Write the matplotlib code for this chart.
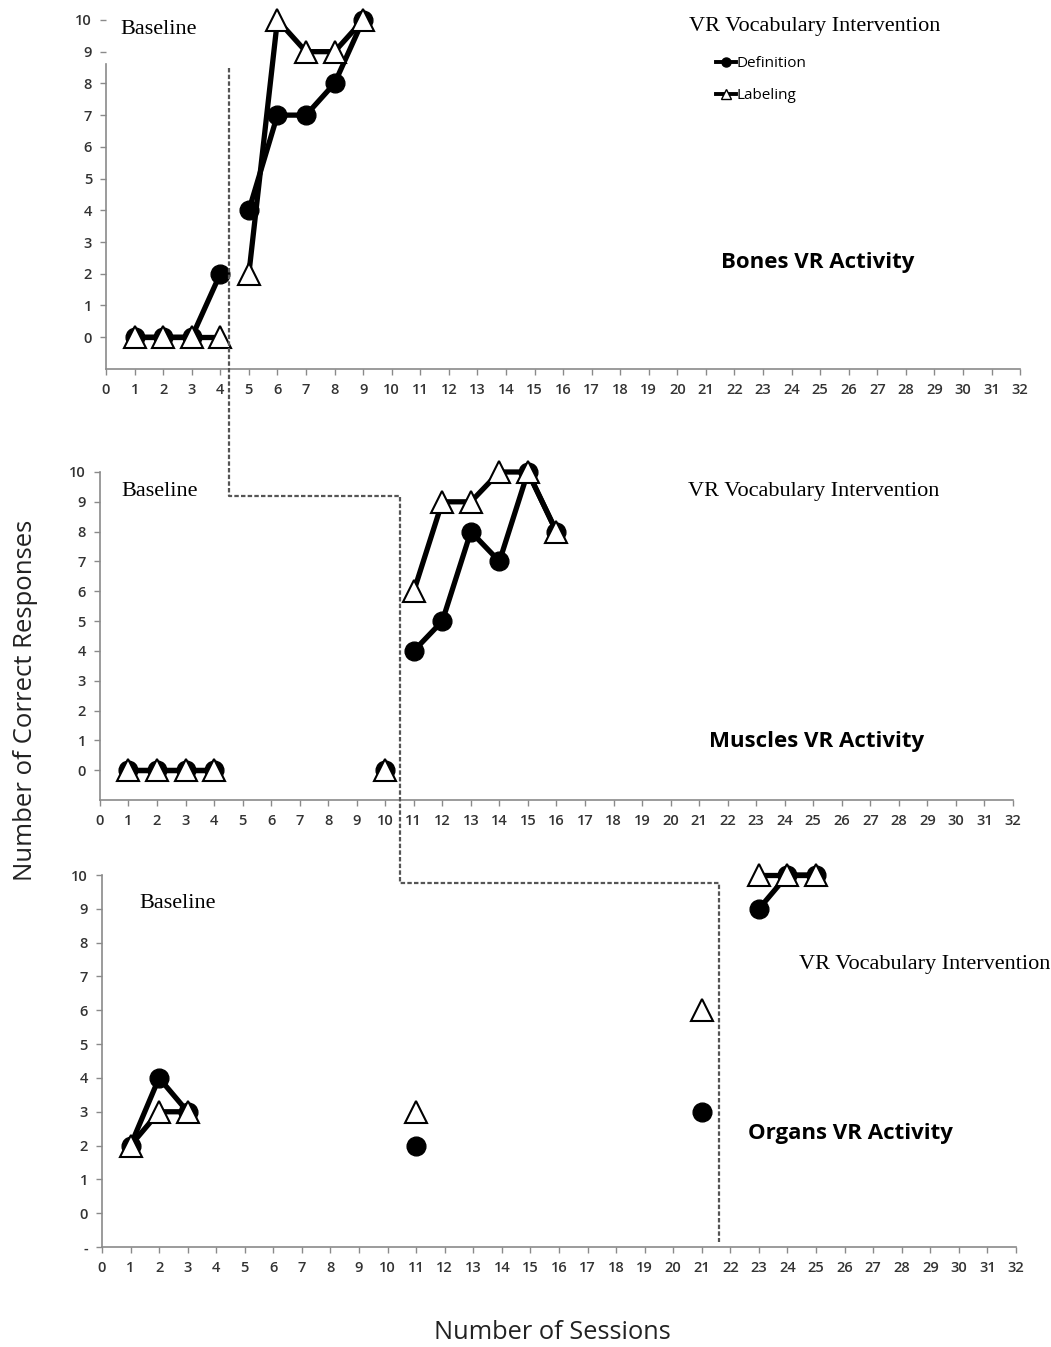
import numpy as np
import matplotlib
matplotlib.use("Agg")
from matplotlib import pyplot as plt
from matplotlib.lines import Line2D

# sessions and scores for each activity
bones_sess = [1, 2, 3, 4, 5, 6, 7, 8, 9]
bones_def = [0, 0, 0, 2, 4, 7, 7, 8, 10]
bones_lab = [0, 0, 0, 0, 2, 10, 9, 9, 10]
bones_groups = [(0, 4), (4, 9)]

muscles_sess = [1, 2, 3, 4, 10, 11, 12, 13, 14, 15, 16]
muscles_def = [0, 0, 0, 0, 0, 4, 5, 8, 7, 10, 8]
muscles_lab = [0, 0, 0, 0, 0, 6, 9, 9, 10, 10, 8]
muscles_groups = [(0, 4), (4, 5), (5, 11)]

organs_sess = [1, 2, 3, 11, 21, 23, 24, 25]
organs_def = [2, 4, 3, 2, 3, 9, 10, 10]
organs_lab = [2, 3, 3, 3, 6, 10, 10, 10]
organs_groups = [(0, 3), (3, 4), (4, 5), (5, 8)]

activity_names = ["Bones VR Activity", "Muscles VR Activity", "Organs VR Activity"]

# phase change line
phase_x = [4.3, 10.5, 21.6]
phase_y = [8.5, 9.2, 9.75, -0.85]

fig = plt.figure(figsize=(10.51, 13.47), dpi=100)

pos = [[0.1009, 0.7261, 0.8697, 0.2591],
       [0.0951, 0.4061, 0.8687, 0.2435],
       [0.0970, 0.0742, 0.8697, 0.2762]]


def style_labels(ax):
    for lab in ax.get_xticklabels() + ax.get_yticklabels():
        lab.set_fontfamily("Open Sans")
        lab.set_fontsize(10.5)
        lab.set_fontweight("semibold")
        lab.set_color("#333333")


axes = []
for p in pos:
    ax = fig.add_axes(p)
    ax.set_xlim(0, 32)
    ax.set_ylim(-1, 10)
    for s in ["top", "right"]:
        ax.spines[s].set_visible(False)
    for s in ["left", "bottom"]:
        ax.spines[s].set_color("#8a8a8a")
        ax.spines[s].set_linewidth(1.2)
    ax.set_xticks(range(0, 33))
    ax.set_yticks(range(0, 11))
    ax.tick_params(colors="#8a8a8a", length=4, width=1, pad=6)
    axes.append(ax)

ax1, ax2, ax3 = axes
ax1.spines["left"].set_bounds(-1, 8.6)
ax3.set_yticks(range(-1, 11))
ax3.set_yticklabels(["-"] + [str(i) for i in range(11)])
for ax in axes:
    style_labels(ax)

def_style = dict(color="black", lw=3.8, marker="o", markersize=13.5,
                 markerfacecolor="black", markeredgecolor="black", clip_on=False, zorder=3)
lab_style = dict(color="black", lw=3.8, marker="^", markersize=16.5,
                 markerfacecolor="white", markeredgecolor="black", markeredgewidth=1.5,
                 clip_on=False, zorder=4)


def draw(ax, sess, d, l, groups):
    for a, b in groups:
        ax.plot(sess[a:b], d[a:b], **def_style)
    for a, b in groups:
        ax.plot(sess[a:b], l[a:b], **lab_style)


draw(ax1, bones_sess, bones_def, bones_lab, bones_groups)
draw(ax2, muscles_sess, muscles_def, muscles_lab, muscles_groups)
draw(ax3, organs_sess, organs_def, organs_lab, organs_groups)

serif = dict(family="Liberation Serif", fontsize=16, va="center")
ax1.text(0.5, 9.7, "Baseline", **serif)
ax1.text(20.4, 9.8, "VR Vocabulary Intervention", **serif)
ax2.text(0.75, 9.35, "Baseline", **serif)
ax2.text(20.6, 9.35, "VR Vocabulary Intervention", **serif)
ax3.text(1.3, 9.15, "Baseline", **serif)
ax3.text(24.4, 7.35, "VR Vocabulary Intervention", **serif)

bold = dict(family="Open Sans", fontsize=16, weight="bold", ha="center", va="center")
ax1.text(24.9, 2.35, activity_names[0], **bold)
ax2.text(25.1, 0.95, activity_names[1], **bold)
ax3.text(26.2, 2.35, activity_names[2], **bold)

handles = [Line2D([], [], color="black", lw=2.8, marker="o", markersize=6.5),
           Line2D([], [], color="black", lw=2.8, marker="^", markersize=7.5,
                  markerfacecolor="white", markeredgecolor="black")]
ax1.legend(handles, ["Definition", "Labeling"], loc="upper left",
           bbox_to_anchor=(0.652, 0.935), frameon=False, handlelength=1.3,
           handletextpad=0.05, labelspacing=1.1,
           prop=dict(family="Open Sans", size=11))

fig.text(0.024, 0.48, "Number of Correct Responses", rotation=90, family="Open Sans",
         fontsize=18.5, ha="center", va="center", color="#222222")
fig.text(0.526, 0.011, "Number of Sessions", family="Open Sans", fontsize=18.3,
         ha="center", va="center", color="#222222")


# phase change line across the three panels
def fxy(ax, x, y):
    return fig.transFigure.inverted().transform(ax.transData.transform((x, y)))

p0 = fxy(ax1, phase_x[0], phase_y[0])
y1 = fxy(ax2, 0, phase_y[1])[1]
x2 = fxy(ax2, phase_x[1], 0)[0]
y3 = fxy(ax3, 0, phase_y[2])[1]
x4 = fxy(ax3, phase_x[2], 0)[0]
y5 = fxy(ax3, 0, phase_y[3])[1]
xs = [p0[0], p0[0], x2, x2, x4, x4]
ys = [p0[1], y1, y1, y3, y3, y5]
fig.add_artist(Line2D(xs, ys, transform=fig.transFigure, color="#555555",
                      lw=1.6, linestyle=(0, (2, 1))))

fig.savefig("out.png", dpi=100)
